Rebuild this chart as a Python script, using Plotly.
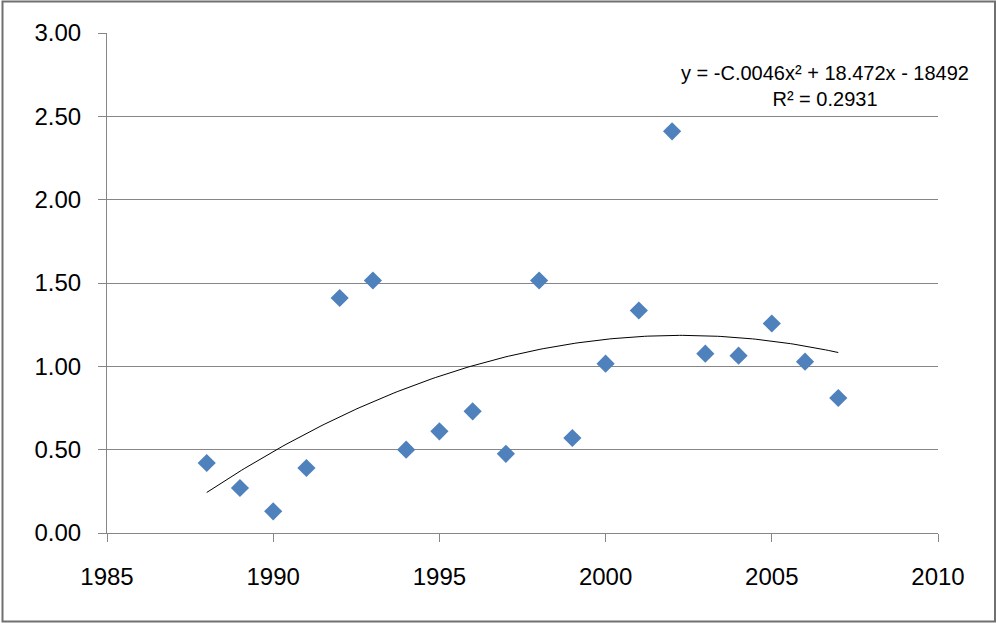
import numpy as np
import plotly.graph_objects as go

years = [1988, 1989, 1990, 1991, 1992, 1993, 1994, 1995, 1996, 1997,
         1998, 1999, 2000, 2001, 2002, 2003, 2004, 2005, 2006, 2007]
values = [0.42, 0.27, 0.13, 0.39, 1.41, 1.515, 0.50, 0.61, 0.73, 0.475,
          1.515, 0.57, 1.016, 1.335, 2.41, 1.076, 1.064, 1.257, 1.028, 0.81]
x_ticks = [1985, 1990, 1995, 2000, 2005, 2010]
y_ticks = [0.0, 0.5, 1.0, 1.5, 2.0, 2.5, 3.0]
y_tick_labels = ["0.00", "0.50", "1.00", "1.50", "2.00", "2.50", "3.00"]
equation_text = "y = -C.0046x² + 18.472x - 18492<br>R² = 0.2931"

# quadratic trendline fitted to the data
xc = np.array(years, dtype=float) - 2000
coef = np.polyfit(xc, np.array(values), 2)
xs = np.linspace(years[0], years[-1], 200)
ys = np.polyval(coef, xs - 2000)

W, H = 996, 623
L, R, T, B = 107, 58, 33, 90
pw, ph = W - L - R, H - T - B

fig = go.Figure()
fig.add_trace(go.Scatter(x=xs, y=ys, mode="lines",
                         line=dict(color="black", width=1), hoverinfo="skip",
                         showlegend=False))
fig.add_trace(go.Scatter(x=years, y=values, mode="markers",
                         marker=dict(symbol="diamond", size=14, color="#4F81BD",
                                     line=dict(width=0)),
                         showlegend=False))

font = dict(family="Liberation Sans, Arial, sans-serif", size=24, color="black")

fig.update_layout(
    width=W, height=H,
    margin=dict(l=L, r=R, t=T, b=B),
    paper_bgcolor="white", plot_bgcolor="white",
    font=font,
    xaxis=dict(range=[1985, 2010], tickvals=x_ticks, showgrid=False,
               showline=True, linecolor="#868686", linewidth=1,
               ticks="outside", ticklen=8, tickcolor="#868686",
               tickfont=font, zeroline=False, ticklabelstandoff=14),
    yaxis=dict(range=[0, 3], tickvals=y_ticks, ticktext=y_tick_labels,
               showgrid=True, gridcolor="#868686", gridwidth=1,
               showline=True, linecolor="#868686", linewidth=1,
               ticks="outside", ticklen=8, tickcolor="#868686",
               tickfont=font, zeroline=False, ticklabelstandoff=12),
    annotations=[dict(text=equation_text, xref="paper", yref="paper",
                      x=(825 - L) / pw, y=(533 - 86) / ph, xanchor="center",
                      yanchor="middle", showarrow=False, align="center",
                      font=dict(family="Liberation Sans, Arial, sans-serif",
                                size=20, color="black"))],
    shapes=[dict(type="rect", xref="paper", yref="paper",
                 x0=(2.5 - L) / pw, x1=(995 - L) / pw,
                 y0=(533 - 621.5) / ph, y1=(533 - 1.5) / ph,
                 line=dict(color="#707070", width=2), layer="below")],
)

fig.write_html("out.html")
